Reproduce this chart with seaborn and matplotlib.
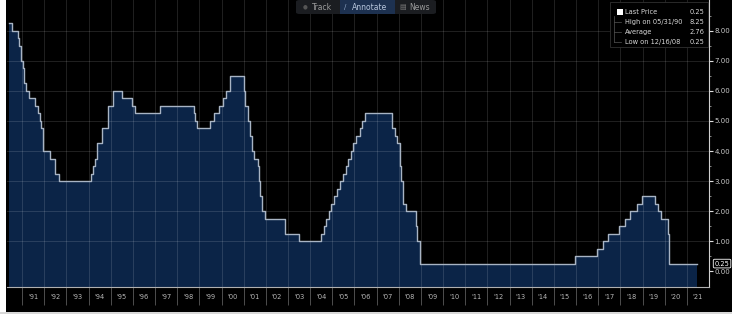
import numpy as np
import pandas as pd
import seaborn as sns
import matplotlib.pyplot as plt
from matplotlib.patches import FancyBboxPatch, Rectangle

# Fed funds target rate, change dates and new level
change_dates = ["1990-05-31", "1990-07-13", "1990-10-29", "1990-11-14", "1990-12-07", "1990-12-19",
                "1991-01-09", "1991-02-01", "1991-03-08", "1991-04-30", "1991-08-06", "1991-09-13",
                "1991-10-31", "1991-11-06", "1991-12-06", "1991-12-20",
                "1992-04-09", "1992-07-02", "1992-09-04",
                "1994-02-04", "1994-03-22", "1994-04-18", "1994-05-17", "1994-08-16", "1994-11-15",
                "1995-02-01", "1995-07-06", "1995-12-19", "1996-01-31", "1997-03-25",
                "1998-09-29", "1998-10-15", "1998-11-17",
                "1999-06-30", "1999-08-24", "1999-11-16",
                "2000-02-02", "2000-03-21", "2000-05-16",
                "2001-01-03", "2001-01-31", "2001-03-20", "2001-04-18", "2001-05-15", "2001-06-27",
                "2001-08-21", "2001-09-17", "2001-10-02", "2001-11-06", "2001-12-11",
                "2002-11-06", "2003-06-25",
                "2004-06-30", "2004-08-10", "2004-09-21", "2004-11-10", "2004-12-14",
                "2005-02-02", "2005-03-22", "2005-05-03", "2005-06-30", "2005-08-09", "2005-09-20",
                "2005-11-01", "2005-12-13",
                "2006-01-31", "2006-03-28", "2006-05-10", "2006-06-29",
                "2007-09-18", "2007-10-31", "2007-12-11",
                "2008-01-22", "2008-01-30", "2008-03-18", "2008-04-30", "2008-10-08", "2008-10-29",
                "2008-12-16",
                "2015-12-16", "2016-12-14", "2017-03-15", "2017-06-14", "2017-12-13",
                "2018-03-21", "2018-06-13", "2018-09-26", "2018-12-19",
                "2019-07-31", "2019-09-18", "2019-10-30",
                "2020-03-03", "2020-03-15", "2021-06-15"]
rates = [8.25, 8.00, 7.75, 7.50, 7.25, 7.00,
         6.75, 6.25, 6.00, 5.75, 5.50, 5.25,
         5.00, 4.75, 4.50, 4.00,
         3.75, 3.25, 3.00,
         3.25, 3.50, 3.75, 4.25, 4.75, 5.50,
         6.00, 5.75, 5.50, 5.25, 5.50,
         5.25, 5.00, 4.75,
         5.00, 5.25, 5.50,
         5.75, 6.00, 6.50,
         6.00, 5.50, 5.00, 4.50, 4.00, 3.75,
         3.50, 3.00, 2.50, 2.00, 1.75,
         1.25, 1.00,
         1.25, 1.50, 1.75, 2.00, 2.25,
         2.50, 2.75, 3.00, 3.25, 3.50, 3.75,
         4.00, 4.25,
         4.50, 4.75, 5.00, 5.25,
         4.75, 4.50, 4.25,
         3.50, 3.00, 2.25, 2.00, 1.50, 1.00,
         0.25,
         0.50, 0.75, 1.00, 1.25, 1.50,
         1.75, 2.00, 2.25, 2.50,
         2.25, 2.00, 1.75,
         1.25, 0.25, 0.25]

years = list(range(1991, 2022))
year_labels = ["'%02d" % (y % 100) for y in years]
y_ticks = [0, 1, 2, 3, 4, 5, 6, 7, 8]

legend_rows = [("Last Price", "0.25"), ("High on 05/31/90", "8.25"),
               ("Average", "2.76"), ("Low on 12/16/08", "0.25")]

d = pd.to_datetime(change_dates)
dec = d.year + (d.dayofyear - 1) / np.where(d.is_leap_year, 366, 365)
df = pd.DataFrame({"t": dec, "rate": rates})

W, H = 732, 314
def fx(x):
    return x / W
def fy(y):
    return 1 - y / H

fig = plt.figure(figsize=(W / 100, H / 100), dpi=100, facecolor="black")
ax = fig.add_axes([fx(7), fy(287), fx(709) - fx(7), fy(0) - fy(287)])
ax.set_facecolor("black")

fill_c = "#0b2447"
line_c = "#a8b4c4"
ax.fill_between(df["t"], df["rate"], -1, step="post", color=fill_c, lw=0, zorder=1)
sns.lineplot(data=df, x="t", y="rate", ax=ax, drawstyle="steps-post",
             color=line_c, lw=1.0, zorder=3)

ax.set_xlim(1990.32, 2022.0)
ax.set_ylim(-0.53, 9.03)

# grid
for y in range(1, 9):
    ax.axhline(y, color="white", alpha=0.13, lw=0.7, zorder=2)
for y in years:
    ax.axvline(y, color="white", alpha=0.13, lw=0.7, zorder=2)

# x axis: separators at year starts, labels mid-year
ax.set_xticks(years)
ax.set_xticklabels([""] * len(years))
ax.set_xticks([y + 0.5 for y in years], minor=True)
ax.set_xticklabels(year_labels, minor=True)
ax.tick_params(axis="x", which="major", length=13, width=0.6, color="#5a5a5a", direction="out")
ax.tick_params(axis="x", which="minor", length=0, pad=5, labelsize=4.8, labelcolor="#b8b8b8")

# y axis on the right
ax.yaxis.tick_right()
ax.set_yticks(y_ticks)
ax.set_yticklabels(["%.2f" % v for v in y_ticks])
ax.set_yticks(np.arange(0.5, 9, 1), minor=True)
ax.tick_params(axis="y", which="major", length=3, width=0.8, color="#dddddd",
               labelsize=5, labelcolor="#c8c8c8", pad=1)
ax.tick_params(axis="y", which="minor", length=1.5, width=0.6, color="#999999")

ax.set_xlabel("")
ax.set_ylabel("")
for s in ["top", "left"]:
    ax.spines[s].set_visible(False)
ax.spines["right"].set_color("#d0d0d0")
ax.spines["right"].set_linewidth(0.8)
ax.spines["bottom"].set_color("#b0b0b0")
ax.spines["bottom"].set_linewidth(0.8)

# last price marker on the axis
ax.text(1.008, 0.25, "0.25", transform=ax.get_yaxis_transform(), fontsize=4.8,
        color="white", va="center", ha="left",
        bbox=dict(boxstyle="round,pad=0.2", fc="black", ec="white", lw=0.6))

# toolbar at top
fig.patches.append(FancyBboxPatch((fx(296), fy(14)), fx(140), fy(0) - fy(14),
                                  boxstyle="round,pad=0,rounding_size=0.005",
                                  transform=fig.transFigure, fc="#1b1d21", ec="none"))
fig.patches.append(Rectangle((fx(340), fy(14)), fx(55), fy(0) - fy(14),
                             transform=fig.transFigure, fc="#1d3150", ec="none"))
fig.text(fx(303), fy(7), "\u25cf", fontsize=4, color="#555555", va="center")
fig.text(fx(312), fy(7), "Track", fontsize=5.5, color="#9a9a9a", va="center")
fig.text(fx(344), fy(7), "/", fontsize=5, color="#8fa6c6", va="center")
fig.text(fx(352), fy(7), "Annotate", fontsize=5.5, color="#b7c6dc", va="center")
fig.text(fx(399), fy(7), "\u25a4", fontsize=5, color="#777777", va="center")
fig.text(fx(409), fy(7), "News", fontsize=5.5, color="#9a9a9a", va="center")

# legend box top right
fig.patches.append(Rectangle((fx(610), fy(47)), fx(98), fy(2) - fy(47),
                             transform=fig.transFigure, fc="black", ec="#303030", lw=0.6))
fig.patches.append(Rectangle((fx(617), fy(15)), fx(6), fy(9) - fy(15),
                             transform=fig.transFigure, fc="white", ec="none"))
fig.lines.append(plt.Line2D([fx(614), fx(614)], [fy(16), fy(42)], transform=fig.transFigure,
                            color="#555555", lw=0.5))
for i, (lab, val) in enumerate(legend_rows):
    yy = 12 + i * 10
    if i > 0:
        fig.lines.append(plt.Line2D([fx(614), fx(621)], [fy(yy), fy(yy)],
                                    transform=fig.transFigure, color="#555555", lw=0.5))
    fig.text(fx(625), fy(yy), lab, fontsize=4.8, color="#d8d8d8", va="center")
    fig.text(fx(704), fy(yy), val, fontsize=4.8, color="#d8d8d8", va="center", ha="right")

# white frame on left and bottom edges
fig.patches.append(Rectangle((0, 0), fx(6), 1, transform=fig.transFigure, fc="white", ec="none"))
fig.patches.append(Rectangle((0, 0), 1, fy(312), transform=fig.transFigure, fc="#d8d8d8", ec="none"))

fig.savefig("out.png", dpi=100, facecolor="black")
